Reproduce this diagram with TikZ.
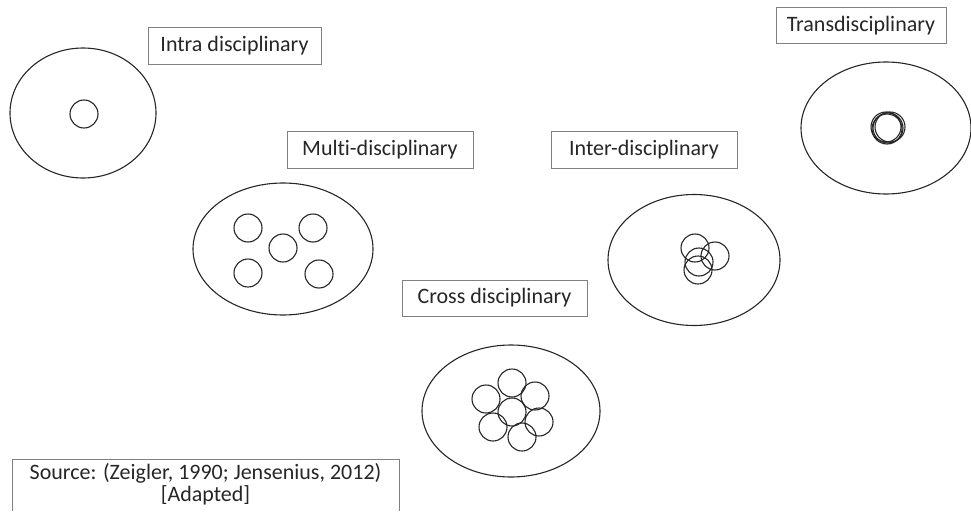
\documentclass[tikz,border=0pt]{standalone}
\usepackage{fontspec}
\setmainfont[Ligatures=NoCommon]{Carlito}
\usetikzlibrary{shapes.geometric}
\definecolor{boxgray}{RGB}{128,128,128}
\definecolor{txt}{RGB}{38,38,38}
\tikzset{
  lbl/.style={draw=boxgray, line width=0.8pt, rectangle, inner sep=0pt, minimum height=37pt, font=\fontsize{22}{24}\selectfont, text=txt},
  outer/.style={draw=black!85, line width=1.1pt, ellipse, inner sep=0pt},
  disc/.style={draw=black!85, line width=1.1pt, circle, inner sep=0pt, minimum size=28pt},
}
\begin{document}
\begin{tikzpicture}[x=1pt,y=-1pt]
\useasboundingbox (0,0) rectangle (971,511);
% Intra
\node[outer, minimum width=146pt, minimum height=130pt] (eintra) at (83,113) {};
\node[disc] (cintra) at (84,114) {};
\node[lbl, minimum width=173pt] (tintra) at (234.5,45.5) {Intra disciplinary};
% Multi
\node[outer, minimum width=180pt, minimum height=132pt] (emulti) at (283,249) {};
\node[disc] (m1) at (248,228) {};
\node[disc] (m2) at (313,228) {};
\node[disc] (m3) at (283,248) {};
\node[disc] (m4) at (248,273) {};
\node[disc] (m5) at (319,274) {};
\node[lbl, minimum width=186pt] (tmulti) at (380,149.5) {Multi-disciplinary};
% Inter
\node[outer, minimum width=172pt, minimum height=131pt] (einter) at (694,260) {};
\node[disc] (i1) at (695,248) {};
\node[disc] (i2) at (715,256) {};
\node[disc] (i3) at (699,262) {};
\node[disc] (i4) at (698,270) {};
\node[lbl, minimum width=186pt] (tinter) at (644,149.5) {Inter-disciplinary};
% Trans
\node[outer, minimum width=170pt, minimum height=132pt] (etrans) at (886,128) {};
\node[disc, minimum size=30pt] (t1) at (886,127) {};
\node[disc, minimum size=30pt] (t2) at (888,128) {};
\node[disc, minimum size=30pt] (t3) at (890,127) {};
\node[disc, minimum size=30pt] (t4) at (887,129) {};
\node[lbl, minimum width=170pt, minimum height=36pt] (ttrans) at (861,25.5) {Transdisciplinary};
% Cross
\node[outer, minimum width=178pt, minimum height=132pt] (ecross) at (511,411) {};
\node[disc] (c0) at (512,412) {};
\node[disc] (c1) at (512,383) {};
\node[disc] (c2) at (535,396) {};
\node[disc] (c3) at (539,422) {};
\node[disc] (c4) at (522,437) {};
\node[disc] (c5) at (493,427) {};
\node[disc] (c6) at (486,399) {};
\node[lbl, minimum width=185pt, minimum height=36pt] (tcross) at (494.5,298) {Cross disciplinary};
% Source
\coordinate (sbl) at (12,511);
\coordinate (stl) at (12,459);
\coordinate (str) at (399,459);
\coordinate (sbr) at (399,511);
\draw[draw=boxgray, line width=0.8pt] (sbl) -- (stl) -- (str) -- (sbr);
\node[font=\fontsize{22}{22}\selectfont, text=txt, align=center, anchor=center, inner sep=0pt] (tsource) at (205.5,484) {Source: (Zeigler, 1990; Jensenius, 2012)\\{}[Adapted]};
\end{tikzpicture}
\end{document}
